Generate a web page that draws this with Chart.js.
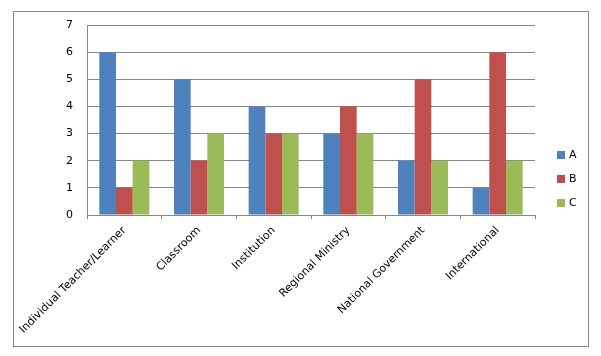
<!DOCTYPE html>
<html>
<head>
<meta charset="utf-8">
<script src="https://cdn.jsdelivr.net/npm/chart.js@4"></script>
<style>
html,body{margin:0;padding:0;background:#fff;}
#wrap{position:relative;width:601px;height:356px;}
</style>
</head>
<body>
<div id="wrap"><canvas id="c" width="601" height="356"></canvas></div>
<script>
const categories = ["Individual Teacher/Learner", "Classroom", "Institution", "Regional Ministry", "National Government", "International"];
const seriesNames = ["A", "B", "C"];
const seriesA = [6, 5, 4, 3, 2, 1];
const seriesB = [1, 2, 3, 4, 5, 6];
const seriesC = [2, 3, 3, 3, 2, 2];
const yTicks = [0, 1, 2, 3, 4, 5, 6, 7];
const colors = ["#4F81BD", "#C0504D", "#9BBB59"];

const FONT = "'DejaVu Sans', Verdana, sans-serif";
Chart.defaults.color = '#000';
Chart.defaults.font.family = FONT;
Chart.defaults.font.size = 11;

const frame = {
  id: 'frame',
  beforeDraw(chart) {
    const ctx = chart.ctx;
    ctx.save();
    ctx.fillStyle = '#fff';
    ctx.fillRect(0, 0, chart.width, chart.height);
    ctx.strokeStyle = '#868686';
    ctx.lineWidth = 1;
    ctx.strokeRect(13.5, 11.5, 575, 335);
    ctx.restore();
  },
  afterDraw(chart) {
    const ctx = chart.ctx;
    ctx.save();
    ctx.font = "11px " + FONT;
    ctx.textBaseline = 'middle';
    ctx.textAlign = 'left';
    chart.data.datasets.forEach((ds, i) => {
      const cy = 155 + i * 24;
      ctx.fillStyle = ds.backgroundColor;
      ctx.fillRect(557, cy - 4, 8, 8);
      ctx.fillStyle = '#000';
      ctx.fillText(ds.label, 569, cy + 0.5);
    });
    ctx.restore();
  }
};

const seriesData = [seriesA, seriesB, seriesC];
new Chart(document.getElementById('c'), {
  type: 'bar',
  data: {
    labels: categories,
    datasets: seriesNames.map((n, i) => ({
      label: n,
      data: seriesData[i],
      backgroundColor: colors[i],
      borderWidth: 0,
      categoryPercentage: 0.67,
      barPercentage: 1.0
    }))
  },
  options: {
    responsive: false,
    animation: false,
    devicePixelRatio: 1,
    layout: { padding: { left: 0, top: 25, right: 66, bottom: 0 } },
    plugins: { legend: { display: false }, tooltip: { enabled: false } },
    scales: {
      x: {
        afterFit(s) { s.height = 141; },
        grid: { drawOnChartArea: false, drawTicks: true, tickLength: 4, color: '#868686', offset: true },
        border: { color: '#868686' },
        ticks: { maxRotation: 45, minRotation: 45, autoSkip: false, padding: 5, font: { size: 11 } }
      },
      y: {
        min: 0, max: 7,
        afterFit(s) { s.width = 87; },
        afterBuildTicks(s) { s.ticks = yTicks.map(v => ({ value: v })); },
        grid: { color: '#868686', drawTicks: false },
        border: { color: '#868686' },
        ticks: { padding: 14, font: { size: 11 } }
      }
    }
  },
  plugins: [frame]
});
</script>
</body>
</html>
